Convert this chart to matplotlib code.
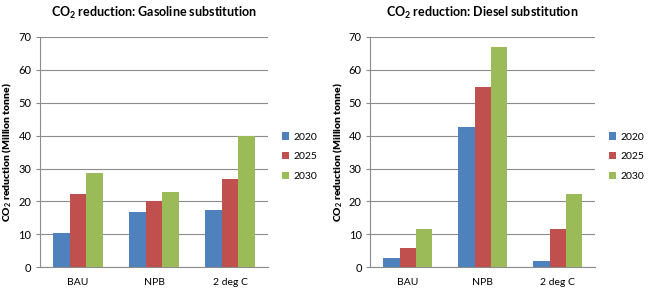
import matplotlib
matplotlib.use("Agg")
import matplotlib.pyplot as plt
import numpy as np

categories = ["BAU", "NPB", "2 deg C"]
years = ["2020", "2025", "2030"]
gasoline = {
    "2020": [10.4, 16.8, 17.5],
    "2025": [22.3, 20.2, 26.9],
    "2030": [28.5, 22.9, 40.0],
}
diesel = {
    "2020": [2.7, 42.7, 1.9],
    "2025": [5.8, 54.8, 11.6],
    "2030": [11.6, 66.8, 22.3],
}
titles = ["CO$_2$ reduction: Gasoline substitution", "CO$_2$ reduction: Diesel substitution"]
ylabel = "CO$_2$ reduction (Million tonne)"
colors = ["#4F81BD", "#C0504D", "#9BBB59"]

plt.rcParams['font.family'] = ['Lato', 'DejaVu Sans']
plt.rcParams['mathtext.fontset'] = 'custom'
plt.rcParams['mathtext.rm'] = 'Lato:bold'
plt.rcParams['mathtext.bf'] = 'Lato:bold'

fig = plt.figure(figsize=(6.54, 2.97), dpi=100)
positions = [[0.061, 0.1, 0.349, 0.776], [0.566, 0.1, 0.344, 0.776]]
grid_c = "#8C8C8C"
bw = 0.217
for i, (data, title) in enumerate(zip([gasoline, diesel], titles)):
    ax = fig.add_axes(positions[i])
    x = np.arange(len(categories))
    for j, y in enumerate(years):
        ax.bar(x + (j - 1) * bw, data[y], bw, color=colors[j], label=y, zorder=3)
    ax.set_xlim(-0.5, 2.5)
    ax.set_ylim(0, 70)
    ax.set_yticks(range(0, 71, 10))
    ax.set_xticks(x)
    ax.set_xticklabels(categories, fontsize=7.5)
    ax.tick_params(axis='y', labelsize=8, length=3, color=grid_c, pad=3)
    ax.tick_params(axis='x', length=0, pad=8)
    ax.yaxis.grid(True, color=grid_c, linewidth=0.8, zorder=0)
    for s in ["top", "right"]:
        ax.spines[s].set_visible(False)
    for s in ["left", "bottom"]:
        ax.spines[s].set_color(grid_c)
        ax.spines[s].set_linewidth(0.8)
    ax.set_title(title, fontsize=9, fontweight='bold', pad=14)
    ax.set_ylabel(ylabel, fontsize=7.5, fontweight='heavy', labelpad=3)
    ax.legend(loc='center left', bbox_to_anchor=(1.02, 0.48), frameon=False,
              fontsize=7.5, handlelength=0.7, handleheight=0.7, handletextpad=0.4,
              labelspacing=1.0)

fig.savefig("out.png", dpi=100)
